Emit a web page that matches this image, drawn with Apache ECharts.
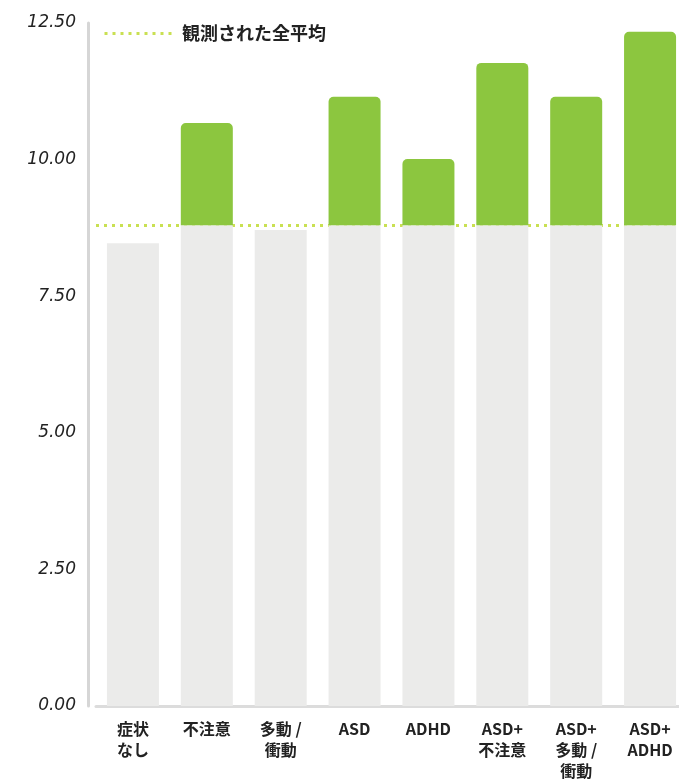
<!DOCTYPE html>
<html>
<head>
<meta charset="utf-8">
<script src="https://cdn.jsdelivr.net/npm/echarts@6/dist/echarts.min.js"></script>
<style>
  html, body { margin: 0; padding: 0; background: #fff; }
  #chart { width: 679px; height: 779px; }
</style>
</head>
<body>
<div id="chart"></div>
<script>
// Groups and their mean scores
const categories = ['症状\nなし', '不注意', '多動 /\n衝動', 'ASD', 'ADHD', 'ASD+\n不注意', 'ASD+\n多動 /\n衝動', 'ASD+\nADHD'];
const scores = [8.47, 10.67, 8.71, 11.15, 10.01, 11.77, 11.15, 12.34];
const overallMean = 8.80;
const yTicks = [0, 2.5, 5, 7.5, 10, 12.5];
const meanLabel = '観測された全平均';

// Part of each bar up to the overall mean (grey) and the excess above it (green)
const basePart = scores.map(v => Math.min(v, overallMean));
const excessPart = scores.map(v => Math.max(v - overallMean, 0));

const GREEN = '#8cc63f';
const GREY = '#ebebea';
const DOT = '#c9e052';

const chart = echarts.init(document.getElementById('chart'));
chart.setOption({
  animation: false,
  backgroundColor: '#fff',
  grid: { left: 96, width: 591, top: 23, bottom: 73, outerBoundsMode: 'none', containLabel: false },
  xAxis: {
    type: 'category',
    data: categories,
    axisTick: { show: false },
    axisLine: { show: true, lineStyle: { color: '#dcdcdc', width: 3 } },
    axisLabel: {
      interval: 0,
      margin: 12,
      color: '#222',
      fontWeight: 'bold',
      fontSize: 16,
      lineHeight: 21,
      fontFamily: '"Noto Sans CJK JP", sans-serif',
      verticalAlign: 'top'
    }
  },
  yAxis: {
    type: 'value',
    min: 0,
    max: 12.5,
    interval: 2.5,
    offset: 8,
    splitLine: { show: false },
    axisTick: { show: false },
    axisLine: { show: true, lineStyle: { color: '#d6d6d6', width: 3 } },
    axisLabel: {
      margin: 12,
      color: '#222',
      fontSize: 17,
      fontStyle: 'italic',
      fontFamily: '"DejaVu Sans", sans-serif',
      formatter: v => yTicks.includes(v) ? v.toFixed(2) : ''
    }
  },
  series: [
    {
      type: 'bar',
      stack: 'total',
      data: basePart,
      barWidth: 52,
      itemStyle: { color: GREY },
      z: 3,
      markLine: {
        silent: true,
        symbol: 'none',
        label: { show: false },
        lineStyle: { color: DOT, width: 3, type: [3, 5] },
        data: [{ yAxis: overallMean }],
        z: 1
      }
    },
    {
      type: 'bar',
      stack: 'total',
      data: excessPart,
      barWidth: 52,
      itemStyle: { color: GREEN, borderRadius: [5, 5, 0, 0] },
      z: 3
    }
  ],
  graphic: [
    {
      type: 'line',
      left: 102,
      top: 31,
      shape: { x1: 0, y1: 0, x2: 68, y2: 0 },
      style: { stroke: DOT, lineWidth: 3, lineDash: [3, 5] }
    },
    {
      type: 'text',
      left: 182,
      top: 24,
      style: {
        text: meanLabel,
        fill: '#222',
        font: 'bold 18px "Noto Sans CJK JP", sans-serif'
      }
    }
  ]
});
</script>
</body>
</html>
